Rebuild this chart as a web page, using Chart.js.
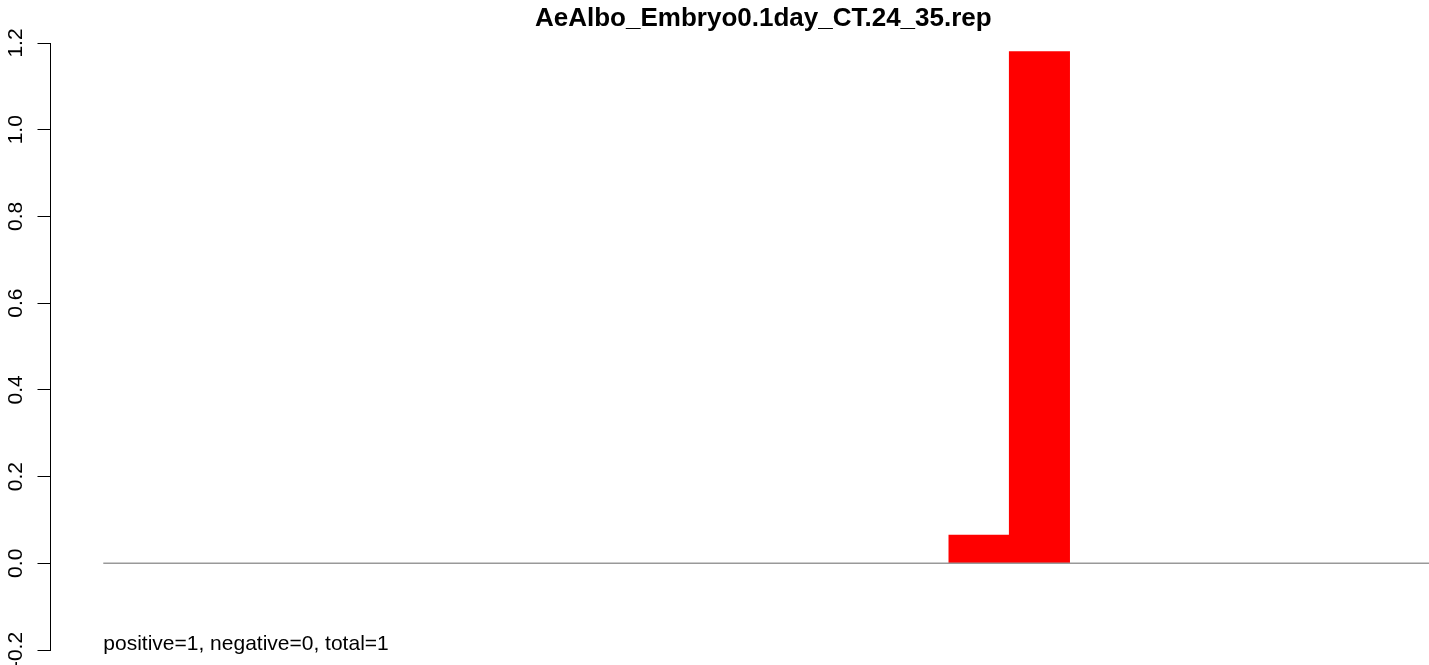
<!DOCTYPE html>
<html>
<head>
<meta charset="utf-8">
<script src="https://cdn.jsdelivr.net/npm/chart.js@4/dist/chart.umd.min.js"></script>
<style>
  html, body { margin: 0; padding: 0; background: #ffffff; }
  #wrap { width: 1429px; height: 665px; position: relative; }
  canvas { display: block; }
</style>
</head>
<body>
<div id="wrap"><canvas id="c" width="1429" height="665"></canvas></div>
<script>
// ---- data ----
const chartTitle = "AeAlbo_Embryo0.1day_CT.24_35.rep";
const noteText = "positive=1, negative=0, total=1";
const binPositions = [15, 16];          // bar positions (bar i spans i-0.5 .. i+0.5)
const binValues = [0.065, 1.18];        // bar heights
const yTicks = [-0.2, 0, 0.2, 0.4, 0.6, 0.8, 1.0, 1.2];
const yTickLabels = ["-0.2", "0.0", "0.2", "0.4", "0.6", "0.8", "1.0", "1.2"];
const yRange = [-0.2, 1.2];
const xRange = [-0.374, 22.45];
const baselineStart = 0.5;              // zero line starts at the first bin edge

const FONT = "'Liberation Sans', Arial, Helvetica, sans-serif";

const textPlugin = {
  id: 'rtext',
  afterDraw(chart) {
    const ctx = chart.ctx;
    const ys = chart.scales.y;
    const xs = chart.scales.x;
    ctx.save();
    ctx.fillStyle = '#000000';
    // title
    ctx.font = "bold 26px " + FONT;
    ctx.textAlign = 'left';
    ctx.textBaseline = 'alphabetic';
    ctx.fillText(chartTitle, 535, 25.5);
    // y tick labels, rotated
    ctx.font = "21px " + FONT;
    yTicks.forEach((v, i) => {
      const y = ys.getPixelForValue(v);
      ctx.save();
      ctx.translate(22, y);
      ctx.rotate(-Math.PI / 2);
      ctx.textAlign = 'center';
      ctx.textBaseline = 'alphabetic';
      ctx.fillText(yTickLabels[i], 0, 0);
      ctx.restore();
    });
    // note text
    ctx.font = "21px " + FONT;
    ctx.textAlign = 'left';
    ctx.fillText(noteText, xs.getPixelForValue(baselineStart), 650);
    ctx.restore();
  }
};

new Chart(document.getElementById('c'), {
  data: {
    datasets: [
      {
        type: 'line',
        order: 0,
        data: [{x: baselineStart, y: 0}, {x: xRange[1], y: 0}],
        borderColor: '#999999',
        borderWidth: 1.5,
        pointRadius: 0,
        fill: false
      },
      {
        type: 'bar',
        order: 1,
        data: binPositions.map((p, i) => ({x: p, y: binValues[i]})),
        backgroundColor: '#ff0000',
        borderWidth: 0,
        barPercentage: 1,
        categoryPercentage: 1
      }
    ]
  },
  options: {
    responsive: false,
    animation: false,
    devicePixelRatio: 1,
    layout: { padding: { left: 37, right: 0, top: 43, bottom: 15 } },
    plugins: { legend: { display: false }, tooltip: { enabled: false }, title: { display: false } },
    scales: {
      x: {
        type: 'linear',
        display: false,
        offset: false,
        grid: { offset: false },
        bounds: 'data',
        min: xRange[0],
        max: xRange[1],
        afterBuildTicks(s) { s.ticks = binPositions.map(v => ({value: v})); }
      },
      y: {
        type: 'linear',
        min: yRange[0],
        max: yRange[1],
        afterBuildTicks(s) { s.ticks = yTicks.map(v => ({value: v})); },
        afterFit(s) { s.width = 13.5; },
        ticks: { display: false },
        grid: { drawOnChartArea: false, drawTicks: true, tickLength: 13, color: '#000000', lineWidth: 1 },
        border: { display: true, color: '#000000', width: 1 }
      }
    }
  },
  plugins: [textPlugin]
});
</script>
</body>
</html>
